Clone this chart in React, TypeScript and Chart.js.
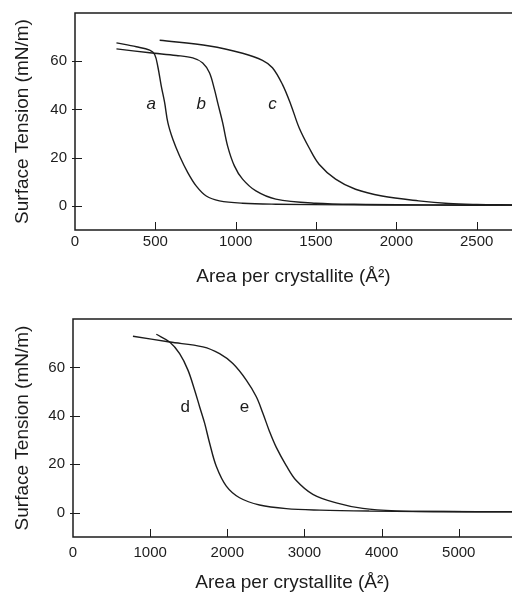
import React, { useEffect, useRef } from "react";
import { Chart, registerables } from "chart.js";
Chart.register(...registerables);

// ---------- Top panel data ----------
const topAreaA = [258, 382, 465, 496, 516, 537, 558, 578, 609, 651, 702, 754, 817, 899, 1043, 1250, 1700, 2200, 2720];
const topTensionA = [67.6, 66.0, 64.6, 62.8, 57.6, 49.7, 42.8, 34.5, 27.6, 20.7, 13.8, 8.3, 4.1, 2.1, 1.1, 0.7, 0.4, 0.3, 0.3];

const topAreaB = [258, 465, 630, 733, 795, 837, 868, 888, 919, 950, 992, 1043, 1126, 1250, 1498, 1809, 2200, 2720];
const topTensionB = [65.1, 63.5, 62.4, 61.4, 59.3, 55.2, 48.3, 42.8, 34.5, 24.8, 16.6, 11.1, 6.2, 2.8, 1.1, 0.6, 0.4, 0.3];

const topAreaC = [527, 837, 1043, 1167, 1229, 1291, 1343, 1395, 1457, 1519, 1622, 1746, 1911, 2139, 2325, 2500, 2720];
const topTensionC = [68.7, 66.3, 63.3, 60.4, 57.3, 50.4, 42.1, 32.4, 24.1, 17.3, 11.1, 6.9, 4.1, 2.1, 1.0, 0.6, 0.4];

const topXTicks = [0, 500, 1000, 1500, 2000, 2500];
const topYTicks = [0, 20, 40, 60];
const topLabels = [
  { text: "a", x: 475, y: 40.0 },
  { text: "b", x: 785, y: 40.0 },
  { text: "c", x: 1229, y: 40.0 },
];

// ---------- Bottom panel data ----------
const botAreaD = [1080, 1253, 1382, 1490, 1576, 1641, 1706, 1771, 1857, 1987, 2159, 2418, 2764, 3200, 3843, 4500, 5690];
const botTensionD = [73.7, 70.5, 65.7, 58.9, 50.7, 43.8, 37.0, 28.7, 19.2, 11.0, 6.2, 3.2, 1.7, 1.1, 0.7, 0.5, 0.4];

const botAreaE = [777, 1253, 1684, 1900, 2072, 2246, 2376, 2461, 2548, 2635, 2764, 2894, 3109, 3412, 3756, 4189, 4800, 5690];
const botTensionE = [72.9, 70.5, 68.5, 65.7, 61.6, 54.8, 47.9, 41.1, 33.5, 27.0, 19.5, 13.3, 7.6, 4.1, 1.8, 0.8, 0.5, 0.4];

const botXTicks = [0, 1000, 2000, 3000, 4000, 5000];
const botYTicks = [0, 20, 40, 60];
const botLabels = [
  { text: "d", x: 1456, y: 41.8 },
  { text: "e", x: 2224, y: 41.8 },
];

const INK = "#1c1c1c";
const FONT = "'Liberation Sans', Arial, Helvetica, sans-serif";

const framePlugin = {
  id: "frame",
  afterDatasetsDraw(chart: any, _args: any, opts: any) {
    const { ctx, chartArea } = chart;
    const { left, right, top, bottom } = chartArea;
    const xs = chart.scales.x;
    const ys = chart.scales.y;
    ctx.save();
    ctx.strokeStyle = INK;
    ctx.lineWidth = 1.5;
    ctx.beginPath();
    ctx.moveTo(right + 2, top);
    ctx.lineTo(left, top);
    ctx.lineTo(left, bottom);
    ctx.lineTo(right + 2, bottom);
    ctx.stroke();
    ctx.lineWidth = 1;
    ctx.beginPath();
    for (const t of xs.ticks) {
      const px = Math.round(xs.getPixelForValue(t.value)) + 0.5;
      if (px < left + 2) continue;
      ctx.moveTo(px, bottom);
      ctx.lineTo(px, bottom - 8);
    }
    for (const t of ys.ticks) {
      const py = Math.round(ys.getPixelForValue(t.value)) + 0.5;
      ctx.moveTo(left - 3, py);
      ctx.lineTo(left + 7, py);
    }
    ctx.stroke();
    ctx.fillStyle = INK;
    ctx.textAlign = "center";
    ctx.textBaseline = "alphabetic";
    ctx.font = `${opts.italic ? "italic " : ""}17px ${FONT}`;
    for (const l of opts.labels || []) {
      ctx.fillText(l.text, xs.getPixelForValue(l.x), ys.getPixelForValue(l.y));
    }
    ctx.restore();
  },
};

function makeSeries(xs: number[], ys: number[]) {
  return xs.map((x, i) => ({ x, y: ys[i] }));
}

type PanelProps = {
  height: number;
  series: { x: number[]; y: number[] }[];
  xMax: number;
  xTicks: number[];
  yTicks: number[];
  labels: { text: string; x: number; y: number }[];
  italic: boolean;
  padTop: number;
  plotBottom: number;
  yWidth: number;
  xTickPad: number;
  xTitlePad: number;
};

function Panel(p: PanelProps) {
  const ref = useRef<HTMLCanvasElement | null>(null);
  useEffect(() => {
    if (!ref.current) return;
    const chart = new Chart(ref.current, {
      type: "line",
      data: {
        datasets: p.series.map((s) => ({
          data: makeSeries(s.x, s.y),
          borderColor: INK,
          borderWidth: 1.4,
          pointRadius: 0,
          fill: false,
          tension: 0.35,
        })),
      },
      options: {
        animation: false,
        responsive: false,
        devicePixelRatio: 1,
        layout: { padding: { top: p.padTop, left: 0, right: 0, bottom: 0 } },
        plugins: {
          legend: { display: false },
          tooltip: { enabled: false },
          frame: { labels: p.labels, italic: p.italic },
        } as any,
        scales: {
          x: {
            type: "linear",
            min: 0,
            max: p.xMax,
            grid: { display: false, drawTicks: false },
            border: { display: false },
            afterBuildTicks: (s: any) => {
              s.ticks = p.xTicks.map((v) => ({ value: v }));
            },
            afterFit: (s: any) => {
              s.height = p.height - p.plotBottom;
              s.paddingLeft = 0;
              s.paddingRight = 0;
            },
            ticks: {
              color: INK,
              font: { family: FONT, size: 15 },
              padding: p.xTickPad,
              maxRotation: 0,
              autoSkip: false,
              callback: (v: any) => String(v),
            },
            title: {
              display: true,
              text: "Area per crystallite (Å²)",
              color: INK,
              font: { family: FONT, size: 19 },
              padding: { top: 0, bottom: p.xTitlePad },
            },
          },
          y: {
            type: "linear",
            min: -10,
            max: 80,
            grid: { display: false, drawTicks: false },
            border: { display: false },
            afterBuildTicks: (s: any) => {
              s.ticks = p.yTicks.map((v) => ({ value: v }));
            },
            afterFit: (s: any) => {
              s.width = p.yWidth;
              s.paddingTop = 0;
              s.paddingBottom = 0;
            },
            ticks: {
              color: INK,
              font: { family: FONT, size: 15 },
              padding: 8,
              callback: (v: any) => String(v),
            },
            title: {
              display: true,
              text: "Surface Tension (mN/m)",
              color: INK,
              font: { family: FONT, size: 19 },
              padding: { top: 11, bottom: 0 },
            },
          },
        },
      },
      plugins: [framePlugin],
    } as any);
    return () => chart.destroy();
  }, []);
  return (
    <canvas
      ref={ref}
      width={512}
      height={p.height}
      style={{ display: "block", width: 512, height: p.height }}
    />
  );
}

export default function App() {
  return (
    <div style={{ position: "absolute", left: 0, top: 0, width: 512, height: 595, background: "#fff" }}>
      <Panel
        height={297}
        series={[
          { x: topAreaA, y: topTensionA },
          { x: topAreaB, y: topTensionB },
          { x: topAreaC, y: topTensionC },
        ]}
        xMax={2720}
        xTicks={topXTicks}
        yTicks={topYTicks}
        labels={topLabels}
        italic={true}
        padTop={13}
        plotBottom={230}
        yWidth={75}
        xTickPad={3}
        xTitlePad={9}
      />
      <Panel
        height={298}
        series={[
          { x: botAreaD, y: botTensionD },
          { x: botAreaE, y: botTensionE },
        ]}
        xMax={5690}
        xTicks={botXTicks}
        yTicks={botYTicks}
        labels={botLabels}
        italic={false}
        padTop={22}
        plotBottom={240}
        yWidth={73}
        xTickPad={7}
        xTitlePad={1}
      />
    </div>
  );
}
